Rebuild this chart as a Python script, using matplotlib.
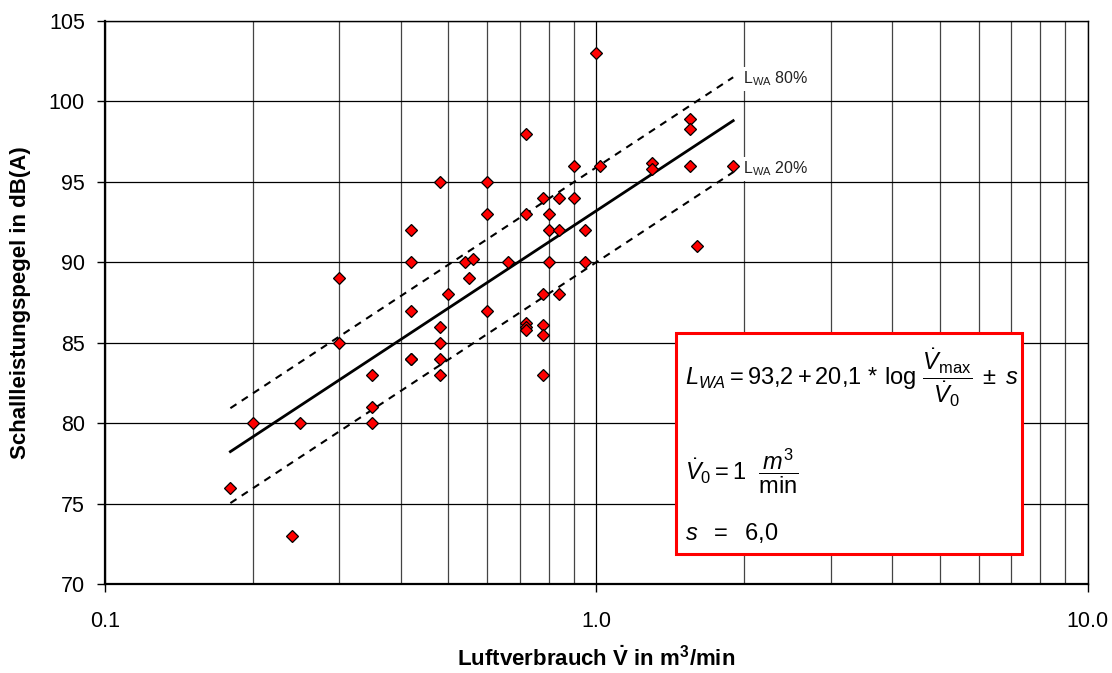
import numpy as np
import matplotlib.pyplot as plt
from matplotlib.patches import Rectangle
from matplotlib.ticker import FixedLocator, FixedFormatter, NullFormatter

plt.rcParams['font.family'] = ['Liberation Sans', 'DejaVu Sans']
plt.rcParams['mathtext.fontset'] = 'custom'
plt.rcParams['mathtext.rm'] = 'Liberation Sans'
plt.rcParams['mathtext.it'] = 'Liberation Sans:italic'
plt.rcParams['mathtext.bf'] = 'Liberation Sans:bold'

# measured air consumption (m3/min) and sound power level (dB(A))
luft = [0.18, 0.20, 0.25, 0.24, 0.30, 0.30, 0.35, 0.35, 0.35,
        0.42, 0.42, 0.42, 0.42, 0.42,
        0.48, 0.48, 0.48, 0.48, 0.48, 0.50,
        0.54, 0.56, 0.55, 0.60, 0.60, 0.60, 0.66,
        0.72, 0.72, 0.72, 0.72, 0.72,
        0.78, 0.78, 0.78, 0.78, 0.78,
        0.80, 0.80, 0.80, 0.84, 0.84, 0.84,
        0.90, 0.90, 0.95, 0.95, 1.00, 1.02,
        1.30, 1.30, 1.55, 1.55, 1.55, 1.60, 1.90]
pegel = [76.0, 80.0, 80.0, 73.0, 89.0, 85.0, 83.0, 81.0, 80.0,
         92.0, 90.0, 87.0, 84.0, 84.0,
         95.0, 86.0, 85.0, 84.0, 83.0, 88.0,
         90.0, 90.2, 89.0, 95.0, 93.0, 87.0, 90.0,
         98.0, 93.0, 86.2, 86.0, 85.8,
         94.0, 88.0, 86.1, 85.5, 83.0,
         93.0, 92.0, 90.0, 94.0, 92.0, 88.0,
         96.0, 94.0, 92.0, 90.0, 103.0, 96.0,
         96.2, 95.8, 98.9, 98.3, 96.0, 91.0, 96.0]

# regression L = a + b*log(V/V0), percentile offsets
a, b = 93.2, 20.1
off80, off20 = 2.7, -3.2
x_fit = [0.18, 1.9]

fig = plt.figure(figsize=(11.12, 6.73), dpi=100)
ax = fig.add_axes([0.0944, 0.1322, 0.8836, 0.8366])
ax.set_xscale('log')
ax.set_xlim(0.1, 10)
ax.set_ylim(70, 105)

xf = np.array(x_fit)
ax.plot(xf, a + b * np.log10(xf), color='black', lw=2.0, zorder=3)
ax.plot(xf, a + b * np.log10(xf) + off80, color='black', lw=1.5,
        dashes=(3.5, 3), zorder=3)
ax.plot(xf, a + b * np.log10(xf) + off20, color='black', lw=1.5,
        dashes=(3.5, 3), zorder=3)

ax.plot(luft, pegel, 'D', ms=6.5, mfc='#ff0000', mec='black', mew=0.9,
        ls='none', zorder=4)

# axis ticks and grid
ax.xaxis.set_major_locator(FixedLocator([0.1, 1.0, 10.0]))
ax.xaxis.set_major_formatter(FixedFormatter(['0.1', '1.0', '10.0']))
minors = [m * 10.0 ** e for e in (-1, 0) for m in range(2, 10)]
ax.xaxis.set_minor_locator(FixedLocator(minors))
ax.xaxis.set_minor_formatter(NullFormatter())
ax.set_yticks(np.arange(70, 106, 5))
ax.grid(True, which='major', axis='both', color='black', lw=0.9)
ax.grid(True, which='minor', axis='x', color='#444444', lw=0.9)
ax.set_axisbelow(True)
ax.tick_params(axis='both', which='major', direction='out', length=5.5,
               width=1, labelsize=15.5, colors='black')
ax.tick_params(axis='y', which='major', pad=9)
ax.tick_params(axis='x', which='major', pad=14)
ax.tick_params(axis='x', which='minor', length=0)
for s in ax.spines.values():
    s.set_linewidth(1.0)
ax.spines['left'].set_linewidth(1.6)
ax.spines['bottom'].set_linewidth(1.6)

ax.set_ylabel('Schallleistungspegel in dB(A)', fontsize=16,
              fontweight='bold')
ax.yaxis.set_label_coords(-0.075, 0.5)
ax.set_xlabel(r'Luftverbrauch $\mathbf{\dot{V}}$ in m$^{\mathbf{3}}$/min',
              fontsize=16, fontweight='bold', labelpad=10)

# band labels
for yv, txt in [(101.4, r'L$_{\rm WA}$ 80%'), (95.8, r'L$_{\rm WA}$ 20%')]:
    ax.text(1.985, yv, txt, fontsize=11.5, color='#222222', ha='left',
            va='center', zorder=5,
            bbox=dict(boxstyle='square,pad=0.15', fc='white', ec='none'))

# formula box
ax.add_patch(Rectangle((0.5816, 0.0528), 0.3516, 0.3936,
                       transform=ax.transAxes, fc='white', ec='#ff0000',
                       lw=2.2, zorder=6))
ax.text(0.590, 0.366,
        r'$L_{WA} = 93{,}2 + 20{,}1\,*\,\log\,\dfrac{\dot{V}_{\rm max}}{\dot{V}_{0}}\;\pm\;s$',
        transform=ax.transAxes, fontsize=17, ha='left', va='center', zorder=7)
ax.text(0.590, 0.2007, r'$\dot{V}_{0} = 1\ \ \dfrac{m^{3}}{\rm min}$',
        transform=ax.transAxes, fontsize=17, ha='left', va='center', zorder=7)
ax.text(0.590, 0.0906, r'$s\ \ =\ \ 6{,}0$',
        transform=ax.transAxes, fontsize=17, ha='left', va='center', zorder=7)

fig.savefig('out.png', dpi=100)
